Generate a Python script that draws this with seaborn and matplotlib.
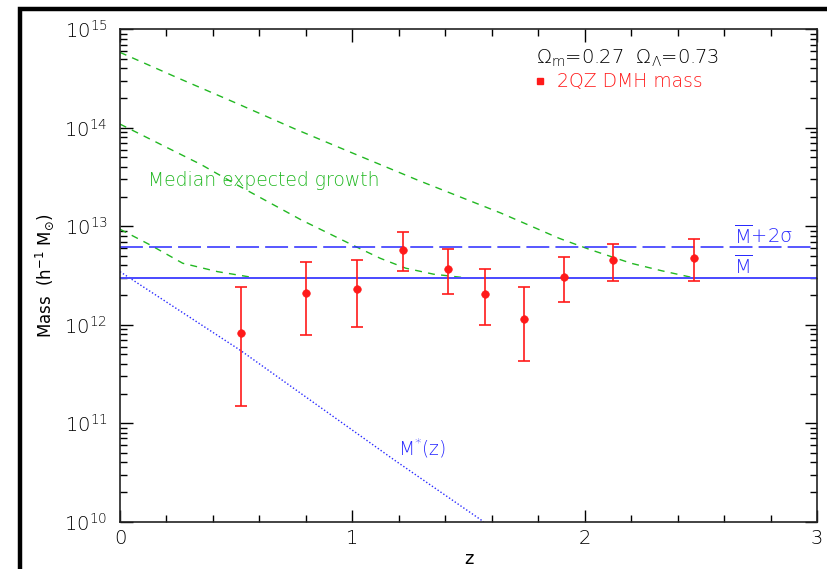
# ---------------- imports ----------------
import numpy as np
import matplotlib
matplotlib.use('Agg')
import matplotlib.pyplot as plt
import seaborn as sns
from matplotlib.patches import Rectangle
from matplotlib.ticker import LogLocator, LogFormatterMathtext, MultipleLocator

sns.set_style('ticks')
plt.rcParams['font.family'] = ['DejaVu Sans']
plt.rcParams['font.weight'] = 'light'
plt.rcParams['mathtext.default'] = 'regular'

# ---------------- data ----------------
# 2QZ dark matter halo masses with errors
z_qso = [0.52, 0.80, 1.02, 1.22, 1.41, 1.57, 1.74, 1.91, 2.12, 2.47]
mass_qso = [8.3e11, 2.1e12, 2.3e12, 5.8e12, 3.7e12, 2.05e12, 1.15e12, 3.05e12, 4.5e12, 4.75e12]
mass_hi = [2.4e12, 4.3e12, 4.5e12, 8.7e12, 5.9e12, 3.65e12, 2.4e12, 4.85e12, 6.55e12, 7.4e12]
mass_lo = [1.5e11, 7.9e11, 9.4e11, 3.5e12, 2.05e12, 9.9e11, 4.3e11, 1.72e12, 2.8e12, 2.8e12]

# mean mass and mean + 2 sigma
m_mean = 3.0e12
m_2sig = 6.2e12

# median expected growth curves
z_grow_a = [0.0, 0.25, 0.5, 0.75, 1.0, 1.28, 1.64, 1.89, 2.02, 2.2, 2.33, 2.46]
m_grow_a = [5.83e14, 3.2e14, 1.78e14, 9.8e13, 5.55e13, 2.95e13, 1.36e13, 7.55e12, 5.83e12, 4.21e12, 3.54e12, 3.03e12]
z_grow_b = [0.0, 0.35, 0.49, 0.78, 1.0, 1.12, 1.23, 1.35, 1.48]
m_grow_b = [1.09e14, 4.22e13, 2.74e13, 1.16e13, 6.46e12, 4.73e12, 3.75e12, 3.26e12, 3.01e12]
z_grow_c = [0.0, 0.13, 0.27, 0.42, 0.55, 0.58]
m_grow_c = [9.33e12, 6.46e12, 4.21e12, 3.46e12, 3.08e12, 3.01e12]

# characteristic mass M*(z)
z_mstar = [0.0, 0.52, 1.18, 1.565]
m_mstar = [3.46e12, 5.46e11, 4.24e10, 1.0e10]

green = '#22b822'
blue = '#2a2aff'
red = '#ff1a1a'

# ---------------- plot ----------------
fig = plt.figure(figsize=(8.28, 5.69), dpi=100)
ax = fig.add_axes([120/828, 1-521.7/569, 697/828, 492.4/569])
ax.set_yscale('log')

for zz, mm in [(z_grow_a, m_grow_a), (z_grow_b, m_grow_b), (z_grow_c, m_grow_c)]:
    sns.lineplot(x=zz, y=mm, ax=ax, color=green, lw=1.0, linestyle=(0, (5, 4.5)))

sns.lineplot(x=z_mstar, y=m_mstar, ax=ax, color=blue, lw=1.0, linestyle=(0, (1, 1.5)))

ax.axhline(m_mean, color='#4a4aff', lw=1.4)
ax.axhline(m_2sig, color=blue, lw=1.1, linestyle=(0, (15, 4)))

yerr = [np.array(mass_qso) - np.array(mass_lo), np.array(mass_hi) - np.array(mass_qso)]
ax.errorbar(z_qso, mass_qso, yerr=yerr, fmt='none', ecolor=red, elinewidth=1.2,
            capsize=4, capthick=1.2)
sns.scatterplot(x=z_qso, y=mass_qso, ax=ax, color=red, s=30, edgecolor=red, zorder=5)

ax.set_xlim(0, 3)
ax.set_ylim(1e10, 1e15)
ax.xaxis.set_major_locator(MultipleLocator(1))
ax.xaxis.set_minor_locator(MultipleLocator(0.2))
ax.yaxis.set_major_locator(LogLocator(base=10))
ax.yaxis.set_minor_locator(LogLocator(base=10, subs=np.arange(2, 10)))
ax.yaxis.set_major_formatter(LogFormatterMathtext())
ax.yaxis.set_minor_formatter(plt.NullFormatter())
ax.tick_params(which='both', direction='in', top=True, right=True, color='black', width=1)
ax.tick_params(which='major', length=9, labelsize=14, colors='black')
ax.tick_params(which='minor', length=5)
ax.tick_params(axis='y', which='major', pad=9)
ax.tick_params(axis='x', which='major', pad=5)
for s in ax.spines.values():
    s.set_linewidth(1.2)
    s.set_color('#222222')

ax.set_xlabel('z', fontsize=13, labelpad=2, color='black')
ax.set_ylabel(r'Mass  (h$^{-1}$ M$_{\odot}$)', fontsize=12, labelpad=6, color='black')

# annotations
ax.text(0.597, 0.931, r'$\Omega_m$=0.27  $\Omega_\Lambda$=0.73', transform=ax.transAxes,
        fontsize=14, va='baseline', color='black')
ax.plot([0.603], [0.895], 's', ms=4, color=red, transform=ax.transAxes)
ax.text(0.6265, 0.883, '2QZ DMH mass', transform=ax.transAxes, fontsize=13.5,
        va='baseline', color=red)
ax.text(0.0406, 0.682, 'Median expected growth', transform=ax.transAxes, fontsize=13.5,
        va='baseline', color=green)
ax.text(0.399, 0.134, r'M$^{*}$(z)', transform=ax.transAxes, fontsize=13.5,
        va='baseline', color=blue)
ax.text(0.8805, 0.564, r'$\overline{\rm M}$+2$\sigma$', transform=ax.transAxes, fontsize=14,
        va='baseline', color=blue)
ax.text(0.8805, 0.503, r'$\overline{\rm M}$', transform=ax.transAxes, fontsize=14,
        va='baseline', color=blue)

# outer black frame of the original page
fig.patches.append(Rectangle((20/828, -0.2), 1.2, 1.2 - 9/569, fill=False, lw=3.2,
                             edgecolor='black', transform=fig.transFigure, clip_on=False))

plt.savefig('out.png', dpi=100)
